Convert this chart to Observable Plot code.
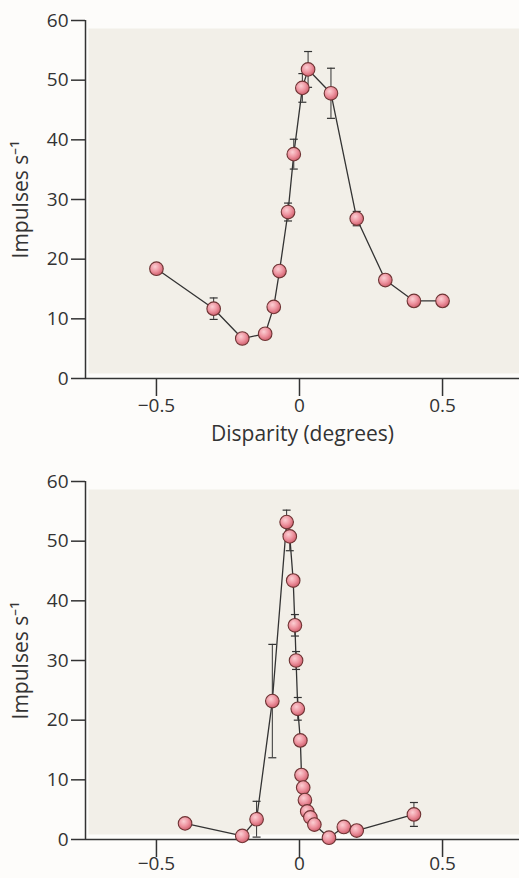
<!DOCTYPE html>
<html>
<head>
<meta charset="utf-8">
<script src="https://cdn.jsdelivr.net/npm/d3@7"></script>
<script src="https://cdn.jsdelivr.net/npm/@observablehq/plot@0.6"></script>
<style>
  html, body { margin: 0; padding: 0; background: #fdfcfa; }
  svg { display: block; }
</style>
</head>
<body>
<div id="top"></div>
<div id="bottom"></div>
<script>
// ---- Data ----
const yTicks = [0, 10, 20, 30, 40, 50, 60];
const xTicks = [-0.5, 0, 0.5];
const xTickLabels = ["\u22120.5", "0", "0.5"];
const yLabel = "Impulses s\u207B\u00B9";
const xLabel = "Disparity (degrees)";

// Top panel
const topX   = [-0.5, -0.3, -0.2, -0.12, -0.09, -0.07, -0.04, -0.02, 0.01, 0.03, 0.11, 0.2, 0.3, 0.4, 0.5];
const topY   = [18.4, 11.7, 6.7, 7.5, 12.0, 18.0, 27.9, 37.6, 48.7, 51.8, 47.8, 26.8, 16.5, 13.0, 13.0];
const topErr = [0, 1.8, 0, 0, 0, 0, 1.5, 2.5, 2.4, 3.0, 4.2, 1.2, 0, 0, 0];

// Bottom panel
const botX   = [-0.4, -0.2, -0.15, -0.095, -0.045, -0.034, -0.022, -0.016, -0.012, -0.006, 0.003, 0.007, 0.013, 0.019, 0.027, 0.038, 0.052, 0.103, 0.155, 0.2, 0.4];
const botY   = [2.7, 0.6, 3.4, 23.2, 53.2, 50.8, 43.4, 35.9, 30.0, 21.9, 16.6, 10.8, 8.7, 6.6, 4.7, 3.7, 2.5, 0.3, 2.1, 1.5, 4.2];
const botErr = [0, 0, 3.0, 9.5, 2.0, 2.4, 0, 1.8, 1.5, 1.9, 0, 0, 0, 0, 0, 0, 0, 0, 0, 0, 2.0];

const xDomain = [-0.748, 0.769];
const yDomain = [0, 60];

const capSymbol = {
  draw(ctx, size) {
    const r = Math.sqrt(size / Math.PI);
    ctx.moveTo(-r, 0);
    ctx.lineTo(r, 0);
  }
};

function makeChart(xs, ys, errs, opts) {
  const data = xs.map((x, i) => ({x, y: ys[i], e: errs[i]}));
  const errData = data.filter(d => d.e > 0);
  const caps = errData.flatMap(d => [{x: d.x, y: d.y - d.e}, {x: d.x, y: d.y + d.e}]);
  const gid = opts.gid;
  const svg = Plot.plot({
    width: 519,
    height: opts.height,
    marginLeft: 85,
    marginRight: 0,
    marginTop: opts.marginTop,
    marginBottom: opts.marginBottom,
    style: {fontFamily: "'Open Sans', sans-serif", fontSize: "19px", color: "#333", background: "transparent"},
    x: {domain: xDomain},
    y: {domain: yDomain},
    marks: [
      Plot.frame({fill: "#f2efe8", stroke: null, insetLeft: 3, insetBottom: 5, insetTop: 8}),
      Plot.axisY({ticks: yTicks, tickSize: 14, tickPadding: 3, stroke: "#333", strokeWidth: 1.5, fontSize: 19,
                  label: opts.showYLabel ? yLabel : null, labelAnchor: "center", labelArrow: "none", labelOffset: 72}),
      Plot.axisX({ticks: xTicks, tickFormat: (d) => xTickLabels[xTicks.indexOf(d)], tickSize: 18, tickPadding: opts.xPad,
                  stroke: "#333", strokeWidth: 1.5, fontSize: 19,
                  label: opts.showXLabel ? xLabel : null, labelAnchor: "center", labelArrow: "none", labelOffset: 62}),
      Plot.ruleX([xDomain[0]], {y1: 0, y2: 60, stroke: "#333", strokeWidth: 1.5}),
      Plot.ruleY([0], {stroke: "#333", strokeWidth: 1.5}),
      Plot.ruleX(errData, {x: "x", y1: d => d.y - d.e, y2: d => d.y + d.e, stroke: "#333", strokeWidth: 1}),
      Plot.dot(caps, {x: "x", y: "y", symbol: capSymbol, r: 4, stroke: "#333", strokeWidth: 1.2, fill: "none"}),
      Plot.line(data, {x: "x", y: "y", stroke: "#333", strokeWidth: 1.3}),
      Plot.dot(data, {x: "x", y: "y", r: 6.8, fill: `url(#${gid})`, stroke: "#6e3434", strokeWidth: 1.1})
    ]
  });
  const s = d3.select(svg);
  const defs = s.insert("defs", ":first-child");
  const g = defs.append("radialGradient").attr("id", gid).attr("cx", "40%").attr("cy", "35%").attr("r", "65%");
  g.append("stop").attr("offset", "0%").attr("stop-color", "#fbcfd3");
  g.append("stop").attr("offset", "55%").attr("stop-color", "#ee94a0");
  g.append("stop").attr("offset", "100%").attr("stop-color", "#d0606e");
  s.selectAll("[aria-label='x-axis tick label'] text, [aria-label='y-axis tick label'] text")
    .style("font-size", "19px");
  s.selectAll("[aria-label='x-axis label'] text, [aria-label='y-axis label'] text")
    .style("font-size", "21px");
  return svg;
}

document.getElementById("top").appendChild(
  makeChart(topX, topY, topErr, {gid: "pinkTop", height: 450, marginTop: 20, marginBottom: 72, showXLabel: true, showYLabel: true, xPad: 2})
);
document.getElementById("bottom").appendChild(
  makeChart(botX, botY, botErr, {gid: "pinkBot", height: 428, marginTop: 31, marginBottom: 39, showXLabel: false, showYLabel: true, xPad: -1})
);
</script>
</body>
</html>
